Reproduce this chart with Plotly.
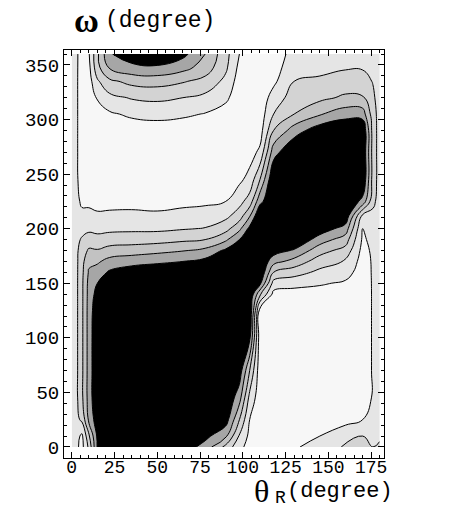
import plotly.graph_objects as go

# theta_R (degree) grid columns and omega (degree) grid rows
theta = [0, 3, 6, 10, 15, 22, 35, 50, 65, 78, 90, 98, 104, 110, 118, 130, 145, 160, 170, 176, 180]
omega = [0, 10, 25, 45, 70, 100, 125, 140, 150, 160, 170, 180, 190, 200, 212, 225, 245, 270, 290, 305, 320, 335, 348, 360]

# field values, one list per theta column (bottom -> top in omega)
col_000 = [1.5] * 24
col_003 = [1.15, 1.3, 1.75, 1.85, 1.85, 1.85, 1.85, 1.85, 1.85, 1.85, 1.85, 1.85, 1.8, 1.6, 1.4, 1.2, 1.12, 1.1, 1.1, 1.1, 1.1, 1.1, 1.1, 1.1]
col_006 = [0.7, 0.8, 2.2, 2.8, 2.8, 2.8, 2.8, 2.8, 2.8, 2.75, 2.65, 2.45, 2.1, 1.7, 1.2, 0.85, 0.55, 0.5, 0.5, 0.5, 0.5, 0.5, 0.55, 0.6]
col_010 = [2.2, 2.8, 4.2, 4.4, 4.4, 4.4, 4.4, 4.35, 4.3, 4.1, 3.8, 3.15, 2.4, 1.8, 1.25, 0.8, 0.45, 0.35, 0.35, 0.35, 0.4, 0.55, 0.7, 0.9]
col_015 = [5.1, 5.2, 5.6, 6, 6, 6, 5.8, 5.4, 5.0, 4.45, 3.85, 3.08, 2.3, 1.73, 1.18, 0.6, 0.3, 0.3, 0.3, 0.4, 1.1, 1.85, 2.71, 2.8]
col_022 = [5.8, 6, 6, 6, 6, 6, 6, 6, 5.75, 5.15, 4.33, 3.4, 2.45, 1.77, 1.23, 0.62, 0.3, 0.3, 0.3, 0.85, 1.71, 2.77, 4.13, 4.9]
col_035 = [6, 6, 6, 6, 6, 6, 6, 6, 6, 5.6, 4.58, 3.53, 2.52, 1.8, 1.25, 0.65, 0.3, 0.3, 0.45, 1.18, 2.08, 3.3, 4.75, 5.6]
col_050 = [6, 6, 6, 6, 6, 6, 6, 6, 6, 5.8, 4.79, 3.72, 2.61, 1.79, 1.2, 0.58, 0.3, 0.3, 0.55, 1.29, 2.21, 3.4, 4.88, 5.8]
col_065 = [5.6, 6, 6, 6, 6, 6, 6, 6, 6, 6, 5.0, 3.94, 2.81, 1.93, 1.34, 0.72, 0.3, 0.3, 0.45, 1.17, 2.0, 3.09, 4.38, 5.3]
col_078 = [4.6, 5.3, 6, 6, 6, 6, 6, 6, 6, 6, 5.3, 4.26, 3.0, 2.05, 1.46, 0.8, 0.35, 0.3, 0.3, 0.95, 1.74, 2.67, 3.57, 4.0]
col_090 = [2.7, 4.2, 5.5, 6, 6, 6, 6, 6, 6, 6, 6, 5.2, 3.81, 2.64, 1.72, 1.0, 0.5, 0.35, 0.35, 0.6, 1.19, 1.74, 2.2, 2.35]
col_098 = [1.3, 1.9, 3.0, 4.4, 5.6, 6, 6, 6, 6, 6, 6, 6, 5.0, 3.75, 2.48, 1.67, 0.8, 0.45, 0.4, 0.4, 0.45, 0.55, 0.75, 1.0]
col_104 = [0.6, 0.75, 1.0, 1.7, 3.0, 5.2, 6, 6, 6, 6, 6, 6, 6, 5.3, 3.88, 2.45, 1.32, 0.6, 0.4, 0.4, 0.4, 0.4, 0.45, 0.55]
col_110 = [0.4, 0.4, 0.4, 0.4, 0.4, 0.4, 0.6, 3.2, 5.3, 6, 6, 6, 6, 6, 6, 4.7, 3.0, 1.2, 0.55, 0.45, 0.4, 0.4, 0.4, 0.4]
col_118 = [0.4, 0.35, 0.3, 0.3, 0.3, 0.3, 0.35, 0.7, 1.57, 3.0, 4.38, 5.5, 6, 6, 6, 6, 6, 4.6, 3.0, 2.0, 1.4, 0.8, 0.65, 0.7]
col_130 = [0.85, 0.6, 0.4, 0.3, 0.3, 0.3, 0.35, 0.6, 1.33, 2.44, 3.63, 4.88, 6, 6, 6, 6, 6, 6, 4.5, 3.0, 2.5, 2.0, 1.5, 1.2]
col_145 = [1.5, 1.0, 0.6, 0.35, 0.3, 0.3, 0.3, 0.55, 1.12, 1.75, 2.5, 3.4, 4.5, 5.6, 6, 6, 6, 6, 5.6, 3.9, 2.75, 2.12, 1.8, 1.6]
col_160 = [2.1, 1.5, 0.75, 0.4, 0.3, 0.3, 0.3, 0.35, 0.85, 1.4, 1.9, 2.62, 3.5, 4.56, 5.8, 6, 6, 6, 6, 4.56, 3.17, 2.41, 1.9, 1.7]
col_170 = [2.3, 2.0, 1.0, 0.4, 0.35, 0.35, 0.35, 0.35, 0.4, 0.5, 0.6, 0.7, 0.85, 1.0, 1.8, 4.7, 6, 6, 6, 4.5, 3.1, 2.4, 1.9, 1.75]
col_176 = [2.0, 1.9, 1.4, 1.1, 1.1, 1.1, 1.1, 1.1, 1.1, 1.1, 1.1, 1.15, 1.25, 1.3, 1.7, 2.3, 2.6, 2.6, 2.6, 2.5, 2.2, 1.95, 1.8, 1.75]
col_180 = [2.1, 1.9] + [1.5] * 22

columns = [col_000, col_003, col_006, col_010, col_015, col_022, col_035, col_050, col_065,
           col_078, col_090, col_098, col_104, col_110, col_118, col_130, col_145, col_160,
           col_170, col_176, col_180]
z = [list(row) for row in zip(*columns)]

x_ticks = [0, 25, 50, 75, 100, 125, 150, 175]
y_ticks = [0, 50, 100, 150, 200, 250, 300, 350]

band_colors = ['#f7f7f7', '#e5e5e5', '#d3d3d3', '#c2c2c2', '#a6a6a6', '#000000']
colorscale = [[i / 5, c] for i, c in enumerate(band_colors)]

fig = go.Figure(go.Contour(
    x=theta, y=omega, z=z,
    autocontour=False,
    contours=dict(start=1, end=5, size=1, coloring='fill', showlines=True),
    line=dict(color='black', width=1, smoothing=1.3),
    colorscale=colorscale, showscale=False, hoverinfo='skip',
))

mono = 'Liberation Mono'
axis_common = dict(
    ticks='inside', ticklen=6, tickwidth=1, tickcolor='black',
    showline=True, linecolor='black', linewidth=1, mirror='allticks',
    showgrid=False, zeroline=False,
)
fig.update_layout(
    width=451, height=512,
    margin=dict(l=64, r=67, t=50, b=54),
    plot_bgcolor='white', paper_bgcolor='white',
    showlegend=False,
    xaxis=dict(range=[-4.5, 182.5], tickvals=x_ticks, ticklabelstandoff=-8,
               tickfont=dict(family=mono, size=18, color='black'),
               minor=dict(ticks='inside', ticklen=3, tickcolor='black', dtick=5, tick0=0),
               **axis_common),
    yaxis=dict(range=[-10.1, 363.7], tickvals=y_ticks,
               tickfont=dict(family=mono, size=19, color='black'),
               minor=dict(ticks='inside', ticklen=3, tickcolor='black', dtick=10, tick0=0),
               **axis_common),
)

def px(xp, yp):
    return (xp - 64) / 320, (458 - yp) / 408

ann = []
x0, y0 = px(86, 20)
ann.append(dict(text='<b>ω</b>', x=x0, y=y0, xanchor='center', yanchor='middle',
                font=dict(family='Liberation Serif', size=34, color='black')))
x0, y0 = px(103, 21)
ann.append(dict(text='(degree)', x=x0, y=y0, xanchor='left', yanchor='middle',
                font=dict(family=mono, size=23, color='black')))
x0, y0 = px(261, 511)
ann.append(dict(text='θ', x=x0, y=y0, xanchor='center', yanchor='bottom',
                font=dict(family='Liberation Serif', size=32, color='black')))
x0, y0 = px(280, 510)
ann.append(dict(text='R', x=x0, y=y0, xanchor='center', yanchor='bottom',
                font=dict(family=mono, size=18, color='black')))
x0, y0 = px(285, 492)
ann.append(dict(text='(degree)', x=x0, y=y0, xanchor='left', yanchor='middle',
                font=dict(family=mono, size=22, color='black')))
for a in ann:
    a.update(xref='paper', yref='paper', showarrow=False)
fig.update_layout(annotations=ann)

fig.write_html('out.html')
